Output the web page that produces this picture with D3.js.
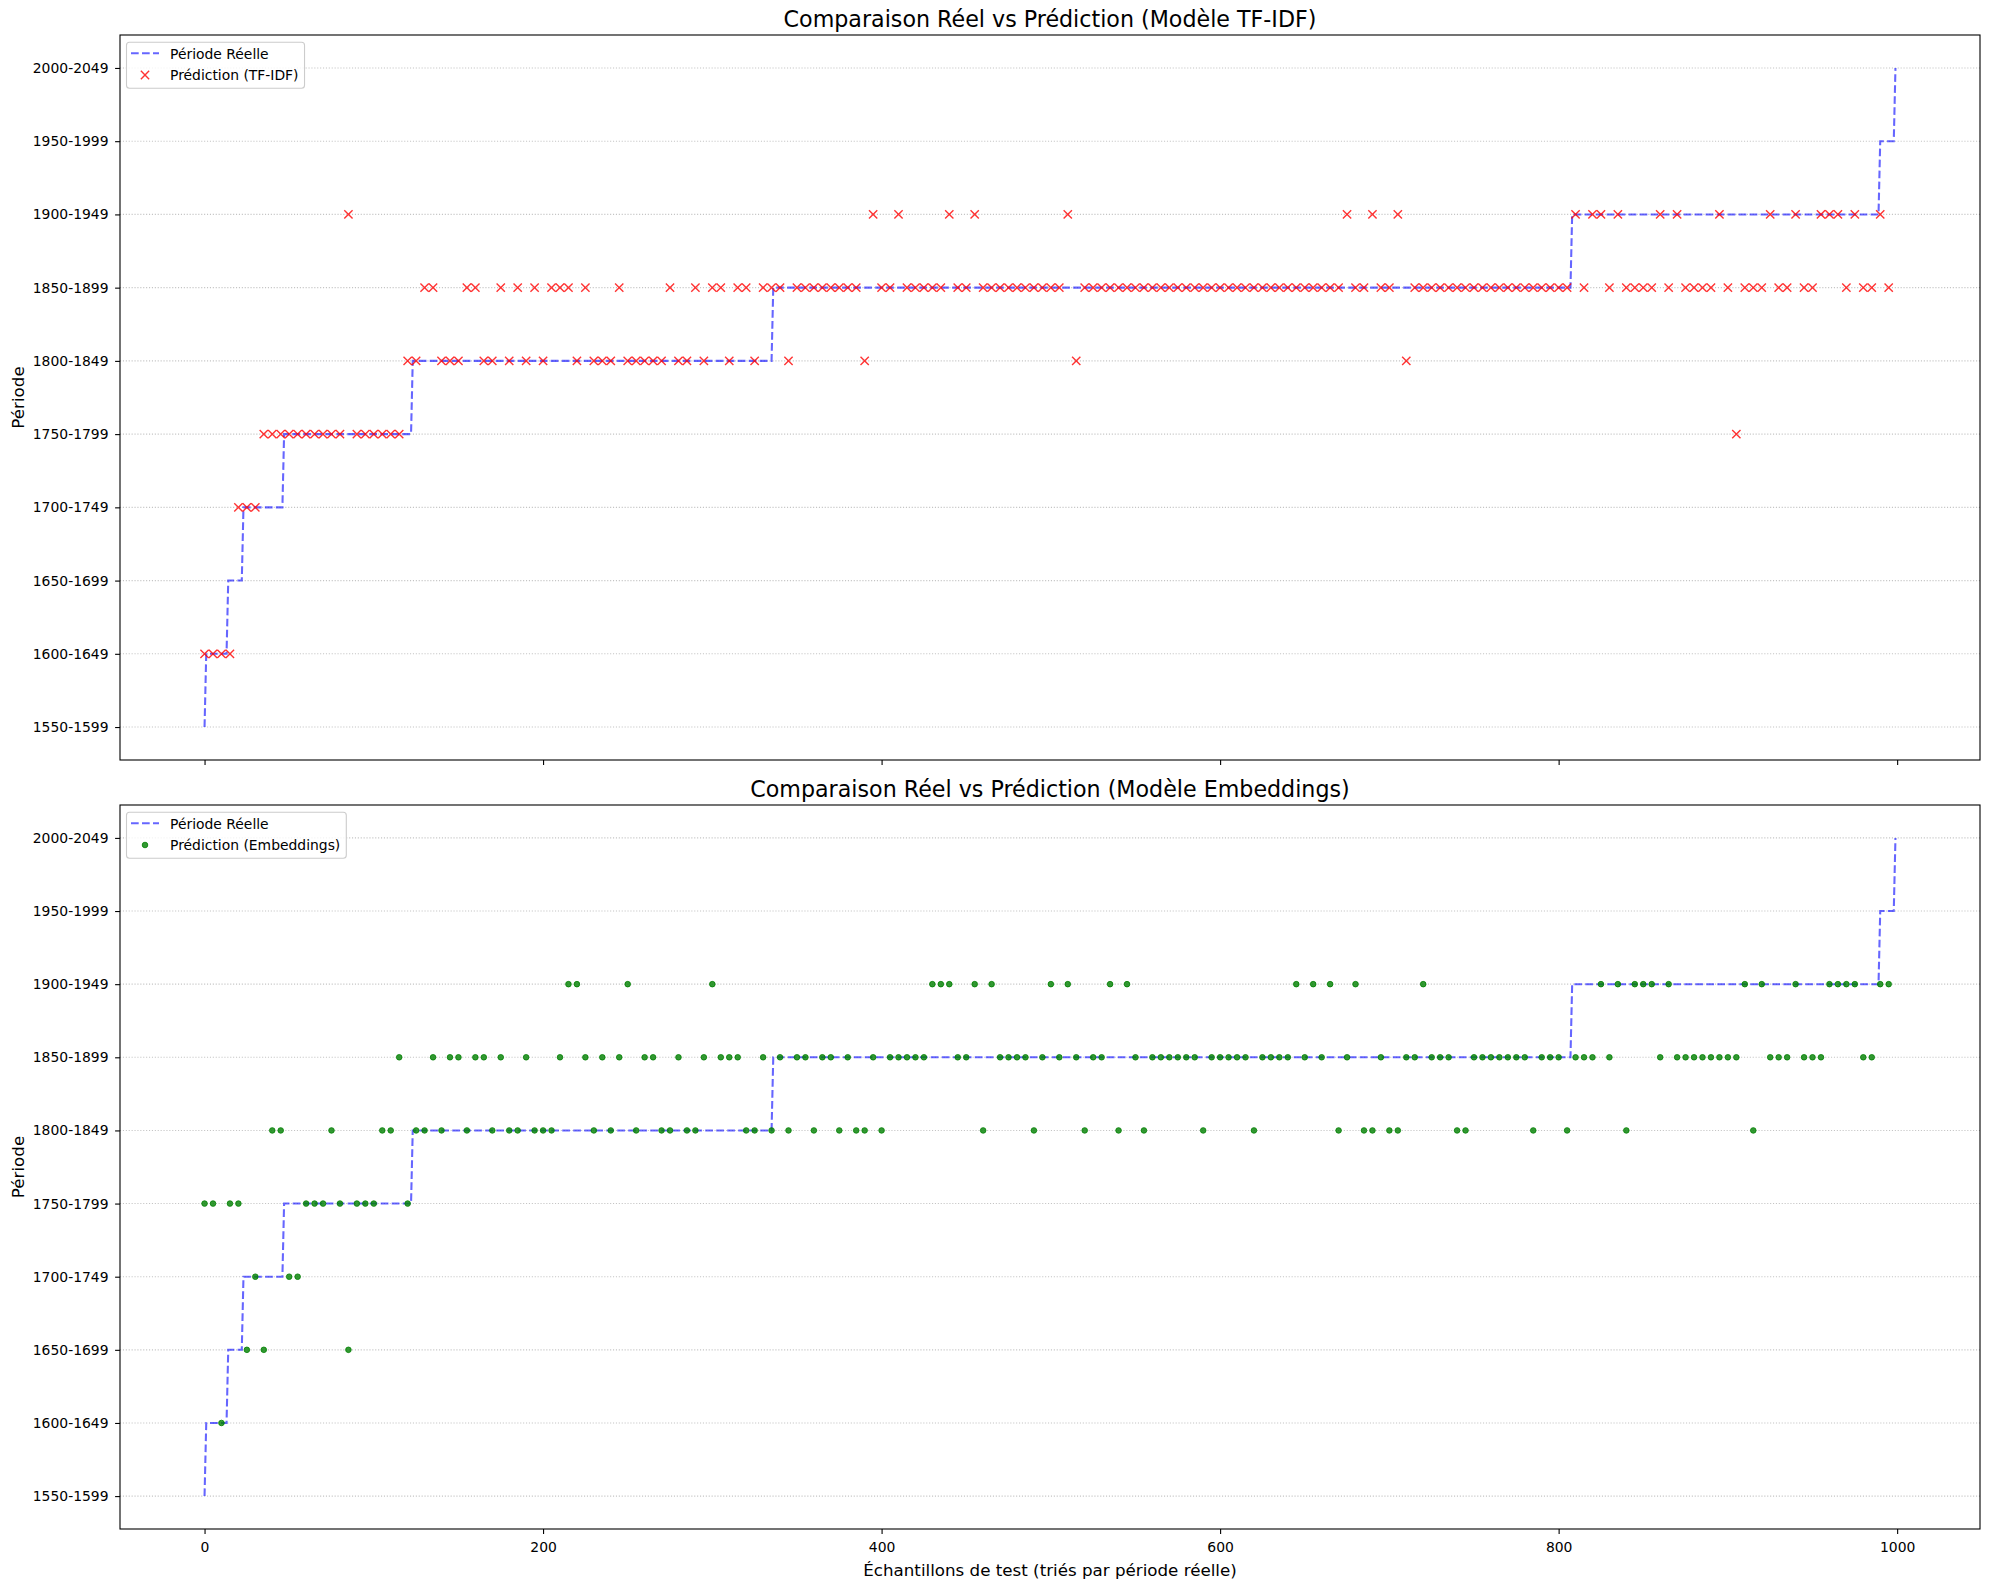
<!DOCTYPE html>
<html>
<head>
<meta charset="utf-8">
<script src="https://cdn.jsdelivr.net/npm/d3@7"></script>
<style>
  body { margin: 0; background: #fff; }
  svg { display: block; font-family: 'DejaVu Sans', sans-serif; }
</style>
</head>
<body>
<svg id="chart" width="1990" height="1589"></svg>
<script>
const periods = [
  '1550-1599', '1600-1649', '1650-1699', '1700-1749', '1750-1799',
  '1800-1849', '1850-1899', '1900-1949', '1950-1999', '2000-2049',
];

// number of test samples per real period (samples are sorted by real period)
const realCounts = [1, 13, 9, 24, 76, 213, 472, 182, 9, 1];

// predictions are plotted for every 5th sample (0, 5, ..., 995), as index into periods
const predStep = 5;
const tfidfPred = [
  1, 1, 1, 1, 3, 3, 3, 4, 4, 4, 4, 4, 4, 4, 4, 4, 4, 7, 4, 4,
  4, 4, 4, 4, 5, 5, 6, 6, 5, 5, 5, 6, 6, 5, 5, 6, 5, 6, 5, 6,
  5, 6, 6, 6, 5, 6, 5, 5, 5, 6, 5, 5, 5, 5, 5, 6, 5, 5, 6, 5,
  6, 6, 5, 6, 6, 5, 6, 6, 6, 5, 6, 6, 6, 6, 6, 6, 6, 6, 5, 7,
  6, 6, 7, 6, 6, 6, 6, 6, 7, 6, 6, 7, 6, 6, 6, 6, 6, 6, 6, 6,
  6, 6, 7, 5, 6, 6, 6, 6, 6, 6, 6, 6, 6, 6, 6, 6, 6, 6, 6, 6,
  6, 6, 6, 6, 6, 6, 6, 6, 6, 6, 6, 6, 6, 6, 6, 7, 6, 6, 7, 6,
  6, 7, 5, 6, 6, 6, 6, 6, 6, 6, 6, 6, 6, 6, 6, 6, 6, 6, 6, 6,
  6, 6, 7, 6, 7, 7, 6, 7, 6, 6, 6, 6, 7, 6, 7, 6, 6, 6, 6, 7,
  6, 4, 6, 6, 6, 7, 6, 6, 7, 6, 6, 7, 7, 7, 6, 7, 6, 6, 7, 6,
];
const embedPred = [
  4, 4, 1, 4, 4, 2, 3, 2, 5, 5, 3, 3, 4, 4, 4, 5, 4, 2, 4, 4,
  4, 5, 5, 6, 4, 5, 5, 6, 5, 6, 6, 5, 6, 6, 5, 6, 5, 5, 6, 5,
  5, 5, 6, 7, 7, 6, 5, 6, 5, 6, 7, 5, 6, 6, 5, 5, 6, 5, 5, 6,
  7, 6, 6, 6, 5, 5, 6, 5, 6, 5, 6, 6, 5, 6, 6, 5, 6, 5, 5, 6,
  5, 6, 6, 6, 6, 6, 7, 7, 7, 6, 6, 7, 5, 7, 6, 6, 6, 6, 5, 6,
  7, 6, 7, 6, 5, 6, 6, 7, 5, 7, 6, 5, 6, 6, 6, 6, 6, 6, 5, 6,
  6, 6, 6, 6, 5, 6, 6, 6, 6, 7, 6, 7, 6, 7, 5, 6, 7, 5, 5, 6,
  5, 5, 6, 6, 7, 6, 6, 6, 5, 5, 6, 6, 6, 6, 6, 6, 6, 5, 6, 6,
  6, 5, 6, 6, 6, 7, 6, 7, 5, 7, 7, 7, 6, 7, 6, 6, 6, 6, 6, 6,
  6, 6, 7, 5, 7, 6, 6, 6, 7, 6, 6, 6, 7, 7, 7, 7, 6, 6, 7, 7,
];

const xTicks = [0, 200, 400, 600, 800, 1000];

const realPeriod = realCounts.flatMap((n, i) => Array(n).fill(i));

const svg = d3.select('#chart');
const left = 120;
const right = 1980;
const tickFont = '13.9px';

const x = d3.scaleLinear().domain([-49.95, 1048.95]).range([left, right]);

const panels = [
  {
    top: 35, bottom: 760,
    title: 'Comparaison Réel vs Prédiction (Modèle TF-IDF)',
    label: 'Prédiction (TF-IDF)',
    pred: tfidfPred, marker: 'x', xLabels: false,
  },
  {
    top: 805, bottom: 1529,
    title: 'Comparaison Réel vs Prédiction (Modèle Embeddings)',
    label: 'Prédiction (Embeddings)',
    pred: embedPred, marker: 'o', xLabels: true,
  },
];

const xPath = 'M-4.15,-4.15L4.15,4.15M-4.15,4.15L4.15,-4.15';

function drawMarker(sel, type) {
  if (type === 'x') {
    sel.append('path')
      .attr('d', xPath)
      .attr('fill', 'none')
      .attr('stroke', 'red')
      .attr('stroke-opacity', 0.8)
      .attr('stroke-width', 1.4);
  } else {
    sel.append('circle')
      .attr('r', 2.8)
      .attr('fill', 'green')
      .attr('fill-opacity', 0.8)
      .attr('stroke', 'green')
      .attr('stroke-opacity', 0.8)
      .attr('stroke-width', 1);
  }
}

function drawPanel(p) {
  const y = d3.scaleLinear().domain([-0.45, 9.45]).range([p.bottom, p.top]);
  const g = svg.append('g');

  // dotted horizontal grid
  g.append('g')
    .selectAll('line')
    .data(d3.range(periods.length))
    .join('line')
    .attr('x1', left)
    .attr('x2', right)
    .attr('y1', (d) => y(d))
    .attr('y2', (d) => y(d))
    .attr('stroke', '#b0b0b0')
    .attr('stroke-opacity', 0.75)
    .attr('stroke-width', 1.1)
    .attr('stroke-dasharray', '1.1,1.8');

  // real period, sorted
  const line = d3.line().x((d, i) => x(i)).y((d) => y(d));
  g.append('path')
    .datum(realPeriod)
    .attr('d', line)
    .attr('fill', 'none')
    .attr('stroke', 'blue')
    .attr('stroke-opacity', 0.6)
    .attr('stroke-width', 2.08)
    .attr('stroke-dasharray', '7.7,3.3');

  // predictions
  const pts = p.pred.map((v, i) => ({ s: i * predStep, v }));
  g.append('g')
    .selectAll('g')
    .data(pts)
    .join('g')
    .attr('transform', (d) => `translate(${x(d.s)},${y(d.v)})`)
    .each(function () {
      drawMarker(d3.select(this), p.marker);
    });

  // y axis
  const yAxis = g.append('g')
    .attr('transform', `translate(${left},0)`)
    .call(d3.axisLeft(y)
      .tickValues(d3.range(periods.length))
      .tickFormat((i) => periods[i])
      .tickSize(4.9)
      .tickPadding(6.6));

  // x axis
  const xAxis = g.append('g')
    .attr('transform', `translate(0,${p.bottom})`)
    .call(d3.axisBottom(x)
      .tickValues(xTicks)
      .tickFormat(d3.format('d'))
      .tickSize(4.9)
      .tickPadding(8.2));
  if (!p.xLabels) xAxis.selectAll('text').remove();

  [yAxis, xAxis].forEach((a) => {
    a.select('.domain').remove();
    a.selectAll('line').attr('stroke', '#000').attr('stroke-width', 1.1);
    a.selectAll('text')
      .attr('fill', '#000')
      .style('font-size', tickFont)
      .style('font-family', 'DejaVu Sans');
  });

  // frame
  g.append('rect')
    .attr('x', left)
    .attr('y', p.top)
    .attr('width', right - left)
    .attr('height', p.bottom - p.top)
    .attr('fill', 'none')
    .attr('stroke', '#000')
    .attr('stroke-width', 1.1);

  // title
  g.append('text')
    .attr('x', (left + right) / 2)
    .attr('y', p.top - 8.3)
    .attr('text-anchor', 'middle')
    .style('font-size', '22.2px')
    .text(p.title);

  // y label
  g.append('text')
    .attr('transform', `translate(24,${(p.top + p.bottom) / 2}) rotate(-90)`)
    .attr('text-anchor', 'middle')
    .style('font-size', '16.7px')
    .text('Période');

  // legend
  const lx = 126.5;
  const ly = p.top + 7.3;
  const lg = g.append('g');
  const box = lg.append('rect')
    .attr('x', lx)
    .attr('y', ly)
    .attr('height', 46)
    .attr('rx', 3)
    .attr('fill', '#fff')
    .attr('fill-opacity', 0.8)
    .attr('stroke', '#cccccc')
    .attr('stroke-width', 1.1);

  lg.append('line')
    .attr('x1', 131)
    .attr('x2', 159)
    .attr('y1', ly + 11)
    .attr('y2', ly + 11)
    .attr('stroke', 'blue')
    .attr('stroke-opacity', 0.6)
    .attr('stroke-width', 2.08)
    .attr('stroke-dasharray', '7.7,3.3');

  const t1 = lg.append('text')
    .attr('x', 170)
    .attr('y', ly + 16.2)
    .style('font-size', tickFont)
    .text('Période Réelle');

  const m = lg.append('g').attr('transform', `translate(145,${ly + 32.7})`);
  drawMarker(m, p.marker);

  const t2 = lg.append('text')
    .attr('x', 170)
    .attr('y', ly + 37.8)
    .style('font-size', tickFont)
    .text(p.label);

  const textW = Math.max(t1.node().getComputedTextLength(), t2.node().getComputedTextLength());
  box.attr('width', 170 + textW + 6 - lx);
}

panels.forEach(drawPanel);

// shared x label
svg.append('text')
  .attr('x', (left + right) / 2)
  .attr('y', 1576)
  .attr('text-anchor', 'middle')
  .style('font-size', '16.7px')
  .text('Échantillons de test (triés par période réelle)');
</script>
</body>
</html>
